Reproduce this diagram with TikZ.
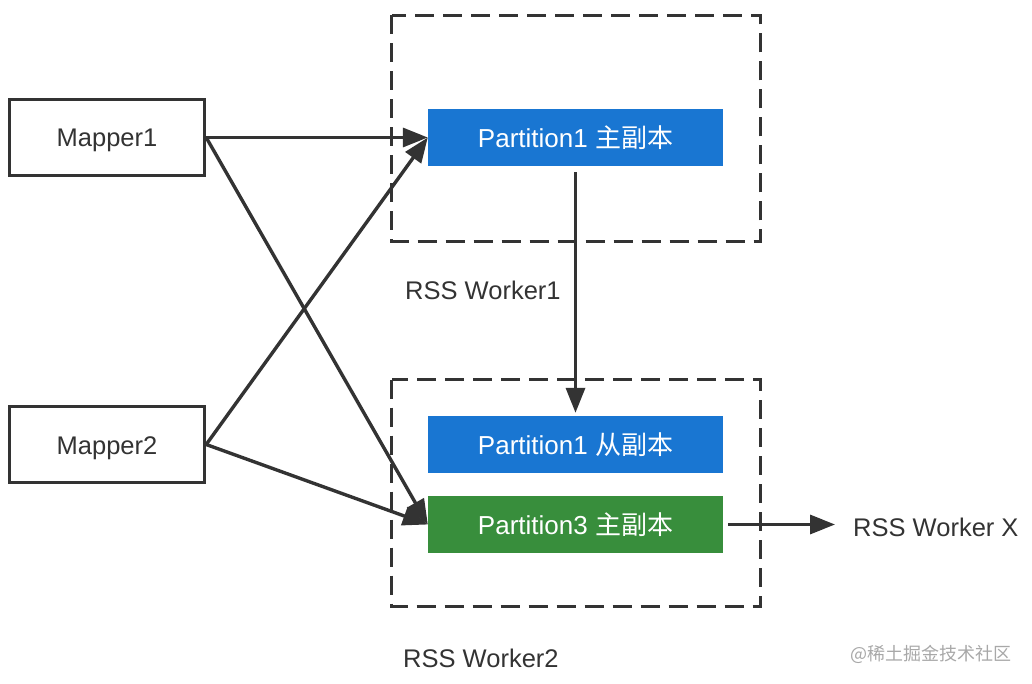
\documentclass[tikz,border=0pt]{standalone}
\usepackage{fontspec}
\setmainfont{Liberation Sans}
\newfontfamily\cjk{Noto Sans CJK SC}
\usetikzlibrary{arrows.meta}
\definecolor{txtgray}{HTML}{333333}
\definecolor{partblue}{HTML}{1976D2}
\definecolor{partgreen}{HTML}{388E3C}
\definecolor{markgray}{HTML}{A8A8A8}
\tikzset{
    mapper/.style={draw=txtgray, line width=3.4pt, minimum width=195pt, minimum height=76pt,
        text=txtgray, text height=19pt, text depth=0pt, font=\fontsize{25.5}{30}\selectfont},
    part/.style={minimum width=295pt, minimum height=57pt, inner sep=0pt, text=white,
        font=\fontsize{26}{30}\selectfont},
    worker/.style={draw=txtgray, line width=3.4pt, dash pattern=on 19pt off 9pt},
    link/.style={draw=txtgray, line width=3.4pt, -{Triangle[length=25pt,width=19pt]}},
    caption/.style={anchor=west, inner sep=0pt, text=txtgray, font=\fontsize{25.5}{30}\selectfont}
}
\begin{document}
\begin{tikzpicture}[x=1pt, y=-1pt]
\useasboundingbox (0,0) rectangle (1032,684);

% worker frames
\draw[worker] (391.5,15.5) rectangle (760.5,241.5);
\draw[worker] (391.5,379.5) rectangle (760.5,606.5);

\node[mapper] (m1) at (107,137.5) {Mapper1};
\node[mapper] (m2) at (107,444.5) {Mapper2};

\node[part, fill=partblue] (p1) at (575.5,137.5) {Partition1 {\cjk 主副本}};
\node[part, fill=partblue] (p1s) at (575.5,444.5) {Partition1 {\cjk 从副本}};
\node[part, fill=partgreen] (p3) at (575.5,524.5) {Partition3 {\cjk 主副本}};

\node[caption] (w1) at (405,290) {RSS Worker1};
\node[caption] (w2) at (403,658) {RSS Worker2};
\node[caption] (wx) at (853,527) {RSS Worker X};
\node[anchor=east, inner sep=0pt, text=markgray, font=\cjk\fontsize{18}{22}\selectfont] (mark) at (1012,654) {@稀土掘金技术社区};

\foreach \src/\dst in {m1/p1, m1/p3, m2/p1, m2/p3}
{
    \draw[link] (\src.east) -- (\dst.west);
}
\draw[link, shorten <=6pt, shorten >=3pt] (p1.south) -- (p1s.north);
\draw[link, shorten <=5pt, shorten >=18pt] (p3.east) -- (p3.east -| wx.west);
\end{tikzpicture}
\end{document}
